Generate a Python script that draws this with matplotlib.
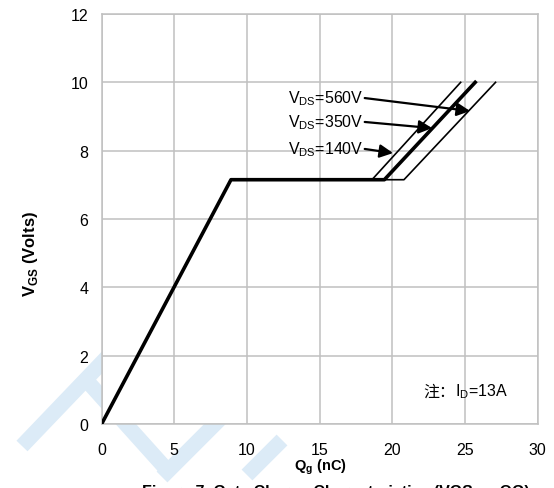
import numpy as np
import matplotlib
matplotlib.use('Agg')
import matplotlib.pyplot as plt

plt.rcParams['font.family'] = ['Liberation Sans', 'Noto Sans CJK SC', 'DejaVu Sans']
plt.rcParams['mathtext.fontset'] = 'custom'
plt.rcParams['mathtext.rm'] = 'Liberation Sans'

# gate charge curves (Qg in nC, Vgs in V)
q_140 = [0, 8.9, 18.6, 24.7]
v_140 = [0, 7.15, 7.15, 10]
q_350 = [0, 8.9, 19.45, 25.7]
v_350 = [0, 7.15, 7.15, 10]
q_560 = [0, 8.9, 20.8, 27.1]
v_560 = [0, 7.15, 7.15, 10]

labels = ['560V', '350V', '140V']
label_y = [9.54, 8.84, 8.05]
arrow_tip = [(25.35, 9.16), (22.74, 8.66), (20.05, 7.93)]

xticks = [0, 5, 10, 15, 20, 25, 30]
yticks = [0, 2, 4, 6, 8, 10, 12]

W, H = 554, 489
fig = plt.figure(figsize=(W/100, H/100), dpi=100)

# light blue watermark on a background axes, in pixel coords
bg = fig.add_axes([0, 0, 1, 1], zorder=0)
bg.set_xlim(0, W)
bg.set_ylim(H, 0)
bg.axis('off')
wm = [[(22, 447), (112, 353)], [(88, 383), (168, 472)],
      [(162, 478), (240, 400)], [(247, 476), (282, 441)]]
for seg in wm:
    bg.plot([p[0] for p in seg], [p[1] for p in seg], color='#dcebf7', lw=11,
            solid_capstyle='butt')

ax = fig.add_axes([101.6/W, 1-425/H, (537.7-101.6)/W, (425-15)/H], zorder=1)
ax.set_facecolor('white')

ax.plot(q_560, v_560, color='black', lw=1.2, zorder=3)
ax.plot(q_140, v_140, color='black', lw=1.2, zorder=3)
ax.plot(q_350, v_350, color='black', lw=2.6, zorder=4)

for lab, ly, tip in zip(labels, label_y, arrow_tip):
    ax.text(18.0, ly, r'V$_{\mathregular{DS}}$=' + lab, ha='right', va='center', fontsize=11.5)
    ax.annotate('', xy=tip, xytext=(18.1, ly),
                arrowprops=dict(arrowstyle='-|>', color='black', lw=1.6,
                                mutation_scale=20, shrinkA=0, shrinkB=0))

note = ax.text(27.97, 0.97, r'I$_{\mathregular{D}}$=13A', ha='right', va='center', fontsize=11.5)
ax.annotate('注：', xy=(0, 0.5), xycoords=note, ha='right', va='center',
            fontsize=11.5, family=['Noto Sans CJK SC'])

ax.set_xlim(0, 30)
ax.set_ylim(0, 12)
ax.set_xticks(xticks)
ax.set_yticks(yticks)
ax.grid(True, color='#c0c0c0', lw=1.1)
ax.set_axisbelow(True)
for s in ax.spines.values():
    s.set_color('#c0c0c0')
    s.set_linewidth(1.1)
ax.tick_params(length=0, labelsize=11.5)
ax.tick_params(axis='x', pad=13)
ax.tick_params(axis='y', pad=9.5)

fig.text(320/W, 1-467/H, r'Q$_{\mathregular{g}}$ (nC)', ha='center', va='center',
         fontsize=10.5, fontweight='bold')
fig.text(30/W, 1-254/H, r'V$_{\mathregular{GS}}$ (Volts)', ha='center', va='center',
         fontsize=12, fontweight='bold', rotation=90)
fig.text(142/W, 1-485/H, 'Figure 7. Gate Charge Characteristics (VGS vs QG)',
         ha='left', va='top', fontsize=11.5, fontweight='bold')

fig.savefig('out.png', dpi=100)
